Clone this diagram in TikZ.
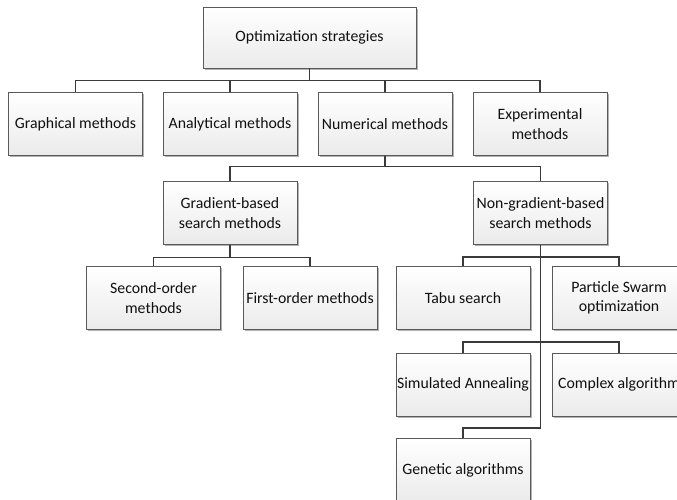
\documentclass[tikz,border=0pt]{standalone}
\usepackage{fontspec}
\setmainfont{Carlito}
\usetikzlibrary{shadows}
\definecolor{boxline}{HTML}{5A5A5A}
\definecolor{wire}{HTML}{3A3A3A}
\definecolor{ink}{HTML}{101010}
\begin{document}
\begin{tikzpicture}[x=1pt,y=-1pt,
  box/.style={rectangle, draw=boxline, line width=0.9pt,
    top color=white, bottom color=black!8,
    minimum width=134pt, minimum height=63pt, inner sep=1pt,
    align=center, text=ink,
    font=\fontsize{15.8}{19.5}\selectfont,
    drop shadow={shadow xshift=1.6pt, shadow yshift=-1.6pt, opacity=0.3, fill=black}},
  link/.style={draw=wire, line width=1.2pt}]
\useasboundingbox (0,0) rectangle (677,500);
\clip (0,0) rectangle (677,500);

% root
\node[box, minimum width=213pt, minimum height=61pt] (root) at (309.5,37.5) {Optimization strategies};

% first level
\node[box] (graph) at (75.5,124) {Graphical methods};
\node[box] (anal)  at (230,124) {Analytical methods};
\node[box] (num)   at (385,124) {Numerical methods};
\node[box] (expe)  at (540,124) {Experimental\\methods};

% numerical branch
\node[box] (grad)  at (230,213) {Gradient-based\\search methods};
\node[box] (ngrad) at (540.5,213) {Non-gradient-based\\search methods};

% gradient-based children
\node[box] (second) at (153.5,298) {Second-order\\methods};
\node[box] (first)  at (310,298) {First-order methods};

% non-gradient-based children
\node[box] (tabu) at (463,298) {Tabu search};
\node[box] (pso)  at (619,298) {Particle Swarm\\optimization};
\node[box] (sa)   at (463,384.5) {Simulated Annealing};
\node[box] (cplx) at (619,384.5) {Complex algorithm};
\node[box] (ga)   at (463,470) {Genetic algorithms};

% connectors
\foreach \c in {graph,anal,num,expe}
  \draw[link] (root.south) -- ++(0,12) -| (\c.north);
\foreach \c in {grad,ngrad}
  \draw[link] (num.south) -- ++(0,10.5) -| (\c.north);
\foreach \c in {second,first}
  \draw[link] (grad.south) -- ++(0,12.5) -| (\c.north);
\draw[link] (ngrad.south) -- (ngrad.south |- 0,428) -| (ga.north);
\foreach \c in {tabu,pso}
  \draw[link] (ngrad.south |- 0,257) -| (\c.north);
\foreach \c in {sa,cplx}
  \draw[link] (ngrad.south |- 0,342) -| (\c.north);
\end{tikzpicture}
\end{document}
